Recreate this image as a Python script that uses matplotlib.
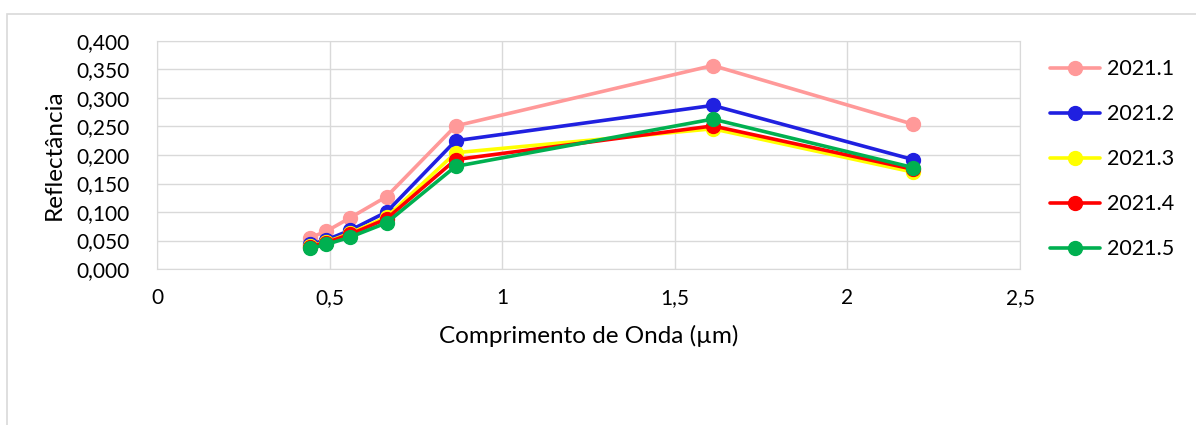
import matplotlib
matplotlib.use("Agg")
import matplotlib.pyplot as plt
from matplotlib.patches import Rectangle
from matplotlib.ticker import FuncFormatter, MultipleLocator

plt.rcParams['font.family'] = ['Lato', 'DejaVu Sans']

# comprimento de onda das bandas (µm)
wavelength = [0.443, 0.49, 0.56, 0.665, 0.865, 1.61, 2.19]

r2021_1 = [0.055, 0.066, 0.090, 0.127, 0.251, 0.357, 0.254]
r2021_2 = [0.043, 0.051, 0.068, 0.100, 0.225, 0.287, 0.192]
r2021_3 = [0.040, 0.047, 0.063, 0.091, 0.204, 0.246, 0.170]
r2021_4 = [0.039, 0.046, 0.061, 0.088, 0.192, 0.251, 0.175]
r2021_5 = [0.036, 0.043, 0.056, 0.081, 0.180, 0.263, 0.178]

labels = ['2021.1', '2021.2', '2021.3', '2021.4', '2021.5']
colors = ['#FF9999', '#2020E0', '#FFFF00', '#FF0000', '#00B050']
series = [r2021_1, r2021_2, r2021_3, r2021_4, r2021_5]

fig = plt.figure(figsize=(11.96, 4.25), dpi=100)
ax = fig.add_axes([157/1196, 1-269/425, (1020-157)/1196, (269-41)/425])

for vals, lab, c in zip(series, labels, colors):
    ax.plot(wavelength, vals, color=c, lw=2.6, marker='o', ms=10, label=lab,
            solid_capstyle='round')

ax.set_xlim(0, 2.5)
ax.set_ylim(0, 0.4)
ax.xaxis.set_major_locator(MultipleLocator(0.5))
ax.yaxis.set_major_locator(MultipleLocator(0.05))
ax.xaxis.set_major_formatter(FuncFormatter(lambda v, p: ('%g' % v).replace('.', ',')))
ax.yaxis.set_major_formatter(FuncFormatter(lambda v, p: ('%.3f' % v).replace('.', ',')))
ax.tick_params(length=0, labelsize=15, colors='black')
ax.tick_params(axis='y', pad=20)
ax.tick_params(axis='x', pad=14)
ax.grid(True, color='#D9D9D9', lw=1)
ax.set_axisbelow(True)
for s in ax.spines.values():
    s.set_color('#D9D9D9')

ax.set_xlabel('Comprimento de Onda (µm)', fontsize=17.5, labelpad=12)
ax.set_ylabel('Reflectância', fontsize=17.5, labelpad=8)

fig.legend(loc='upper left', bbox_to_anchor=(1031/1196, 1-40/425), frameon=False,
           fontsize=15.5, handlelength=2.3, labelspacing=1.16, handletextpad=0.35)

# moldura da área do gráfico
fig.patches.append(Rectangle((7/1196, -0.1), 1.2, 1-14/425+0.1, transform=fig.transFigure,
                             fill=False, edgecolor='#D9D9D9', lw=1.2))

fig.savefig('out.png', dpi=100)
